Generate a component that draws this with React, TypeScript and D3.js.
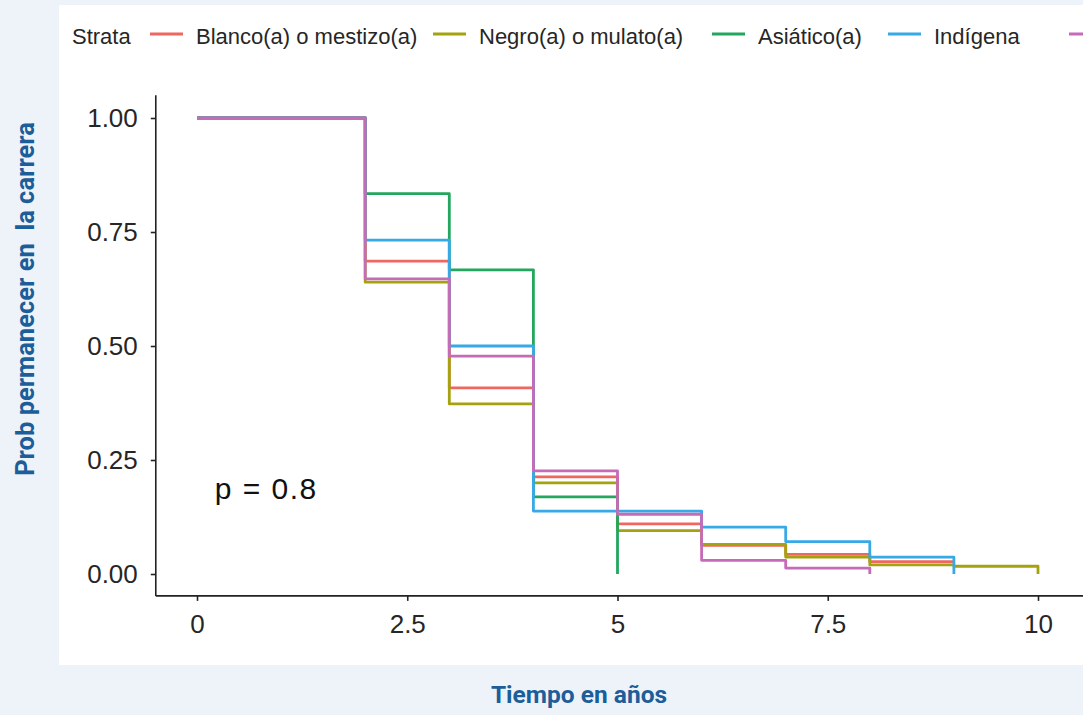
import React, { useRef, useEffect } from "react";
import * as d3 from "d3";

// strata labels and colours (ggplot / survminer defaults, as seen in the picture)
const strata = ["Blanco(a) o mestizo(a)", "Negro(a) o mulato(a)", "Asiático(a)", "Indígena", "Otro(a)"];
const colors = ["#f0675f", "#a5a20f", "#23a65e", "#36a9e6", "#c56bb8"];

// Kaplan-Meier step values
const blancoTime = [0, 2, 3, 4, 5, 6, 7, 8, 9];
const blancoSurv = [1, 0.686, 0.408, 0.213, 0.11, 0.063, 0.043, 0.027, 0.027];
const negroTime = [0, 2, 3, 4, 5, 6, 7, 8, 9, 10];
const negroSurv = [1, 0.64, 0.373, 0.2, 0.095, 0.065, 0.037, 0.02, 0.017, 0];
const asiaticoTime = [0, 2, 3, 4, 5];
const asiaticoSurv = [1, 0.834, 0.667, 0.169, 0];
const indigenaTime = [0, 2, 3, 4, 6, 7, 8, 9];
const indigenaSurv = [1, 0.732, 0.5, 0.138, 0.103, 0.071, 0.037, 0];
const otroTime = [0, 2, 3, 4, 5, 6, 7, 8];
const otroSurv = [1, 0.647, 0.478, 0.226, 0.131, 0.03, 0.013, 0];

const xTicks = [0, 2.5, 5, 7.5, 10];
const yTicks = [0, 0.25, 0.5, 0.75, 1];
const pValue = "p = 0.8";

const W = 1083;
const H = 715;

// legend key positions (layout only)
const legendKeyX = [150, 433, 712, 888, 1069];

export default function App() {
  const ref = useRef<SVGSVGElement>(null);

  useEffect(() => {
    if (!ref.current) return;
    const svg = d3.select(ref.current);
    svg.selectAll("*").remove();

    const series = [
      { t: blancoTime, s: blancoSurv },
      { t: negroTime, s: negroSurv },
      { t: asiaticoTime, s: asiaticoSurv },
      { t: indigenaTime, s: indigenaSurv },
      { t: otroTime, s: otroSurv },
    ];

    // background + white panel
    svg.append("rect").attr("width", W).attr("height", H).attr("fill", "#eef3f9");
    svg.append("rect").attr("x", 59).attr("y", 5).attr("width", W - 59).attr("height", 660).attr("fill", "#ffffff");

    const x = d3.scaleLinear().domain([0, 10]).range([197, 1038]);
    const y = d3.scaleLinear().domain([0, 1]).range([574, 118]);

    const tickFont = "'Liberation Sans', Arial, sans-serif";

    // y axis
    const gy = svg.append("g").attr("transform", `translate(${x(-0.49)},0)`);
    gy.call(
      d3.axisLeft(y).tickValues(yTicks).tickFormat(d3.format(".2f")).tickSize(5).tickPadding(13)
    );
    gy.select(".domain").remove();
    gy.append("line")
      .attr("y1", y(1.05))
      .attr("y2", y(-0.048))
      .attr("stroke", "#222")
      .attr("stroke-width", 1.6);
    gy.selectAll(".tick line").attr("stroke", "#222").attr("stroke-width", 1.6);
    gy.selectAll(".tick text")
      .attr("font-family", tickFont)
      .attr("font-size", 26)
      .attr("fill", "#262626");

    // x axis
    const gx = svg.append("g").attr("transform", `translate(0,${y(-0.048)})`);
    gx.call(
      d3.axisBottom(x).tickValues(xTicks).tickFormat((d) => d3.format("~g")(d as number)).tickSize(5).tickPadding(14)
    );
    gx.select(".domain").remove();
    gx.append("line")
      .attr("x1", x(-0.49))
      .attr("x2", W)
      .attr("stroke", "#222")
      .attr("stroke-width", 1.6);
    gx.selectAll(".tick line").attr("stroke", "#222").attr("stroke-width", 1.6);
    gx.selectAll(".tick text")
      .attr("font-family", tickFont)
      .attr("font-size", 26)
      .attr("fill", "#262626");

    // step curves
    const line = d3
      .line<[number, number]>()
      .x((d) => x(d[0]))
      .y((d) => y(d[1]))
      .curve(d3.curveStepAfter);

    series.forEach((sr, i) => {
      const pts = sr.t.map((t, j) => [t, sr.s[j]] as [number, number]);
      svg.append("path")
        .attr("d", line(pts))
        .attr("fill", "none")
        .attr("stroke", colors[i])
        .attr("stroke-width", 2.8)
        .attr("stroke-linejoin", "round");
    });

    // p value
    svg.append("text")
      .attr("x", x(0.21))
      .attr("y", y(0.165))
      .attr("font-family", tickFont)
      .attr("font-size", 30)
      .attr("letter-spacing", 1.5)
      .attr("fill", "#111")
      .text(pValue);

    // legend
    const lg = svg.append("g").attr("font-family", tickFont).attr("font-size", 22).attr("fill", "#262626");
    lg.append("text").attr("x", 72).attr("y", 44).text("Strata");
    strata.forEach((name, i) => {
      const kx = legendKeyX[i];
      lg.append("line")
        .attr("x1", kx)
        .attr("x2", kx + 33)
        .attr("y1", 34)
        .attr("y2", 34)
        .attr("stroke", colors[i])
        .attr("stroke-width", 2.8);
      // the last label falls past the right edge in the original, so skip it
      if (kx + 46 < W) lg.append("text").attr("x", kx + 46).attr("y", 44).text(name);
    });

    // axis titles
    const titleFont = "Roboto, 'Open Sans', sans-serif";
    svg.append("text")
      .attr("x", 579)
      .attr("y", 703)
      .attr("text-anchor", "middle")
      .attr("font-family", titleFont)
      .attr("font-weight", 700)
      .attr("font-size", 24.5)
      .attr("fill", "#1b5e9a")
      .text("Tiempo en años");

    svg.append("text")
      .attr("transform", `translate(34,299) rotate(-90)`)
      .attr("text-anchor", "middle")
      .attr("font-family", titleFont)
      .attr("font-weight", 700)
      .attr("font-size", 25.5)
      .attr("fill", "#1b5e9a")
      .style("white-space", "pre")
      .text("Prob permanecer en  la carrera");
  }, []);

  return (
    <svg
      ref={ref}
      width={W}
      height={H}
      style={{ position: "absolute", left: 0, top: 0, display: "block" }}
    />
  );
}
